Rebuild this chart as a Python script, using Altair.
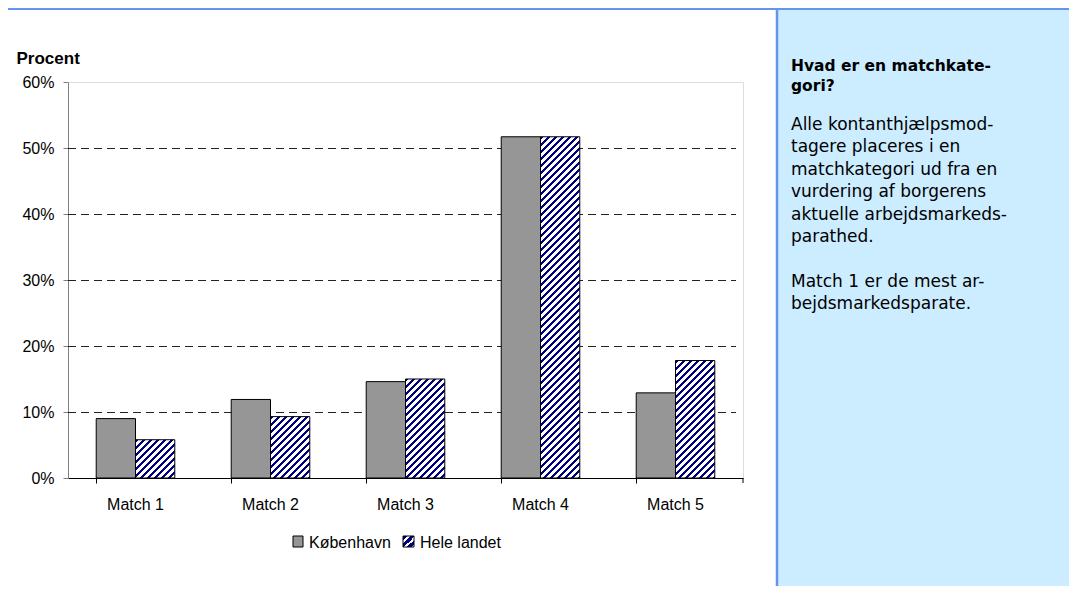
import altair as alt
import pandas as pd

# ---------------- data ----------------
categories = ["Match 1", "Match 2", "Match 3", "Match 4", "Match 5"]
series = ["København", "Hele landet"]
kobenhavn = [0.090, 0.119, 0.146, 0.517, 0.129]
hele_landet = [0.058, 0.093, 0.150, 0.517, 0.178]
y_ticks = [0.0, 0.1, 0.2, 0.3, 0.4, 0.5, 0.6]
grid_values = [0.1, 0.2, 0.3, 0.4, 0.5]
panel_title = ["Hvad er en matchkate-", "gori?"]
panel_body_1 = [
    "Alle kontanthjælpsmod-",
    "tagere placeres i en",
    "matchkategori ud fra en",
    "vurdering af borgerens",
    "aktuelle arbejdsmarkeds-",
    "parathed.",
]
panel_body_2 = [
    "Match 1 er de mest ar-",
    "bejdsmarkedsparate.",
]
y_title = "Procent"

# ---------------- layout / style ----------------
W, H = 675, 396
YMAX = 0.6
PAD_L, PAD_T = 60, 74
TOTAL_W, TOTAL_H = 1061, 578
PI, PO = 0.418, 0.209
FONT = "Liberation Sans"
PANEL_FONT = "DejaVu Sans"
GRAY = "#969696"
NAVY = "#000080"
PANEL_FILL = "#CCECFF"
PANEL_LINE = "#6495ED"
LH = 22.4

rows = []
for c, k, h in zip(categories, kobenhavn, hele_landet):
    rows.append({"cat": c, "series": series[0], "value": k})
    rows.append({"cat": c, "series": series[1], "value": h})
df = pd.DataFrame(rows)

step = W / (len(categories) - PI + 2 * PO)
bar_w = step * (1 - PI) / 2


def hatch(w, h, period=7.0, frac=0.46):
    r = h / w
    s = (1 + r) / (1 + r * r)
    tp = period / (w + h)
    stops = []
    k = 0
    while k * tp < 1:
        a = k * tp
        b = min(a + frac * tp, 1)
        e = min((k + 1) * tp, 1)
        stops += [
            alt.GradientStop(offset=a, color=NAVY),
            alt.GradientStop(offset=b, color=NAVY),
            alt.GradientStop(offset=b, color="white"),
            alt.GradientStop(offset=e, color="white"),
        ]
        k += 1
    return alt.LinearGradient(gradient="linear", x1=0, y1=0, x2=s, y2=s * r, stops=stops)


x_enc = alt.X(
    "cat:N",
    sort=categories,
    scale=alt.Scale(domain=categories, paddingInner=PI, paddingOuter=PO),
    axis=alt.Axis(
        title=None, labelAngle=0, labelFont=FONT, labelFontSize=16, labelColor="black",
        domainColor="black", tickColor="black", tickSize=5, bandPosition=0,
        labelPadding=13, grid=False,
    ),
)
xo_enc = alt.XOffset("series:N", sort=series,
                     scale=alt.Scale(domain=series, paddingInner=0, paddingOuter=0))
y_enc = alt.Y(
    "value:Q",
    scale=alt.Scale(domain=[0, YMAX], nice=False, zero=True),
    axis=alt.Axis(
        values=y_ticks, format=".0%", labelFont=FONT, labelFontSize=16, labelColor="black",
        domainColor="#808080", tickColor="#808080", tickSize=5, labelPadding=9, grid=False,
        title=y_title, titleFont=FONT, titleFontSize=17, titleFontWeight="bold",
        titleAngle=0, titleAlign="left", titleBaseline="alphabetic",
        titleX=-52, titleY=-19, titleColor="black",
    ),
)

one = pd.DataFrame({"a": [0]})

panel = alt.Chart(one).mark_rect(fill=PANEL_FILL).encode(
    x=alt.value(708), x2=alt.value(TOTAL_W - PAD_L), y=alt.value(-PAD_T), y2=alt.value(TOTAL_H - PAD_T)
)
panel_left = alt.Chart(one).mark_rule(color=PANEL_LINE, strokeWidth=2.5).encode(
    x=alt.value(709), y=alt.value(-PAD_T), y2=alt.value(TOTAL_H - PAD_T)
)
top_line = alt.Chart(one).mark_rule(color=PANEL_LINE, strokeWidth=2).encode(
    x=alt.value(-PAD_L), x2=alt.value(TOTAL_W - PAD_L), y=alt.value(-PAD_T + 1)
)

grid = alt.Chart(pd.DataFrame({"value": grid_values})).mark_rule(
    color="#222222", strokeDash=[8, 5], strokeWidth=1, yOffset=0.5
).encode(y=y_enc, x=alt.value(0), x2=alt.value(668))

gray_bars = alt.Chart(df[df.series == series[0]]).mark_bar(
    fill=GRAY, stroke="black", strokeWidth=1
).encode(x=x_enc, xOffset=xo_enc, y=y_enc)

hatched_layers = []
for c, v in zip(categories, hele_landet):
    h = v * H / YMAX
    hatched_layers.append(
        alt.Chart(df[(df.series == series[1]) & (df.cat == c)]).mark_bar(
            fill=hatch(bar_w, h), stroke="black", strokeWidth=1
        ).encode(x=x_enc, xOffset=xo_enc, y=y_enc)
    )

end_tick = alt.Chart(one).mark_rule(color="black").encode(
    x=alt.value(W), y=alt.value(H), y2=alt.value(H + 5)
)

# legend
leg_y0, leg_y1 = 454, 465
leg1 = alt.Chart(one).mark_rect(fill=GRAY, stroke="black", strokeWidth=1).encode(
    x=alt.value(225), x2=alt.value(235), y=alt.value(leg_y0), y2=alt.value(leg_y1)
)
leg1t = alt.Chart(one).mark_text(
    text=series[0], font=FONT, fontSize=16, align="left", baseline="alphabetic", color="black"
).encode(x=alt.value(241), y=alt.value(466))
leg2 = alt.Chart(one).mark_rect(fill=hatch(11, 11, period=7.5, frac=0.6), stroke="black", strokeWidth=1).encode(
    x=alt.value(335), x2=alt.value(346), y=alt.value(leg_y0), y2=alt.value(leg_y1)
)
leg2t = alt.Chart(one).mark_text(
    text=series[1], font=FONT, fontSize=16, align="left", baseline="alphabetic", color="black"
).encode(x=alt.value(352), y=alt.value(466))

title_txt = alt.Chart(one).mark_text(
    text=panel_title, font=PANEL_FONT, fontSize=15.5, fontWeight="bold", align="left",
    baseline="alphabetic", lineHeight=20, color="black"
).encode(x=alt.value(723), y=alt.value(-11))
body_txt1 = alt.Chart(one).mark_text(
    text=panel_body_1, font=PANEL_FONT, fontSize=17, align="left",
    baseline="alphabetic", lineHeight=LH, color="black"
).encode(x=alt.value(723), y=alt.value(130 - 82))
body_txt2 = alt.Chart(one).mark_text(
    text=panel_body_2, font=PANEL_FONT, fontSize=17, align="left",
    baseline="alphabetic", lineHeight=LH, color="black"
).encode(x=alt.value(723), y=alt.value(130 - 82 + 7 * LH))

chart = alt.layer(
    panel, panel_left, top_line, grid, gray_bars, *hatched_layers, end_tick,
    leg1, leg1t, leg2, leg2t, title_txt, body_txt1, body_txt2,
).properties(
    width=W, height=H,
    autosize=alt.AutoSizeParams(type="none"),
    padding={"left": PAD_L, "top": PAD_T, "right": TOTAL_W - PAD_L - W, "bottom": TOTAL_H - PAD_T - H},
).configure_view(stroke=None).configure(background="white")

chart.save("out.html", embed_options={"renderer": "svg", "actions": False})
